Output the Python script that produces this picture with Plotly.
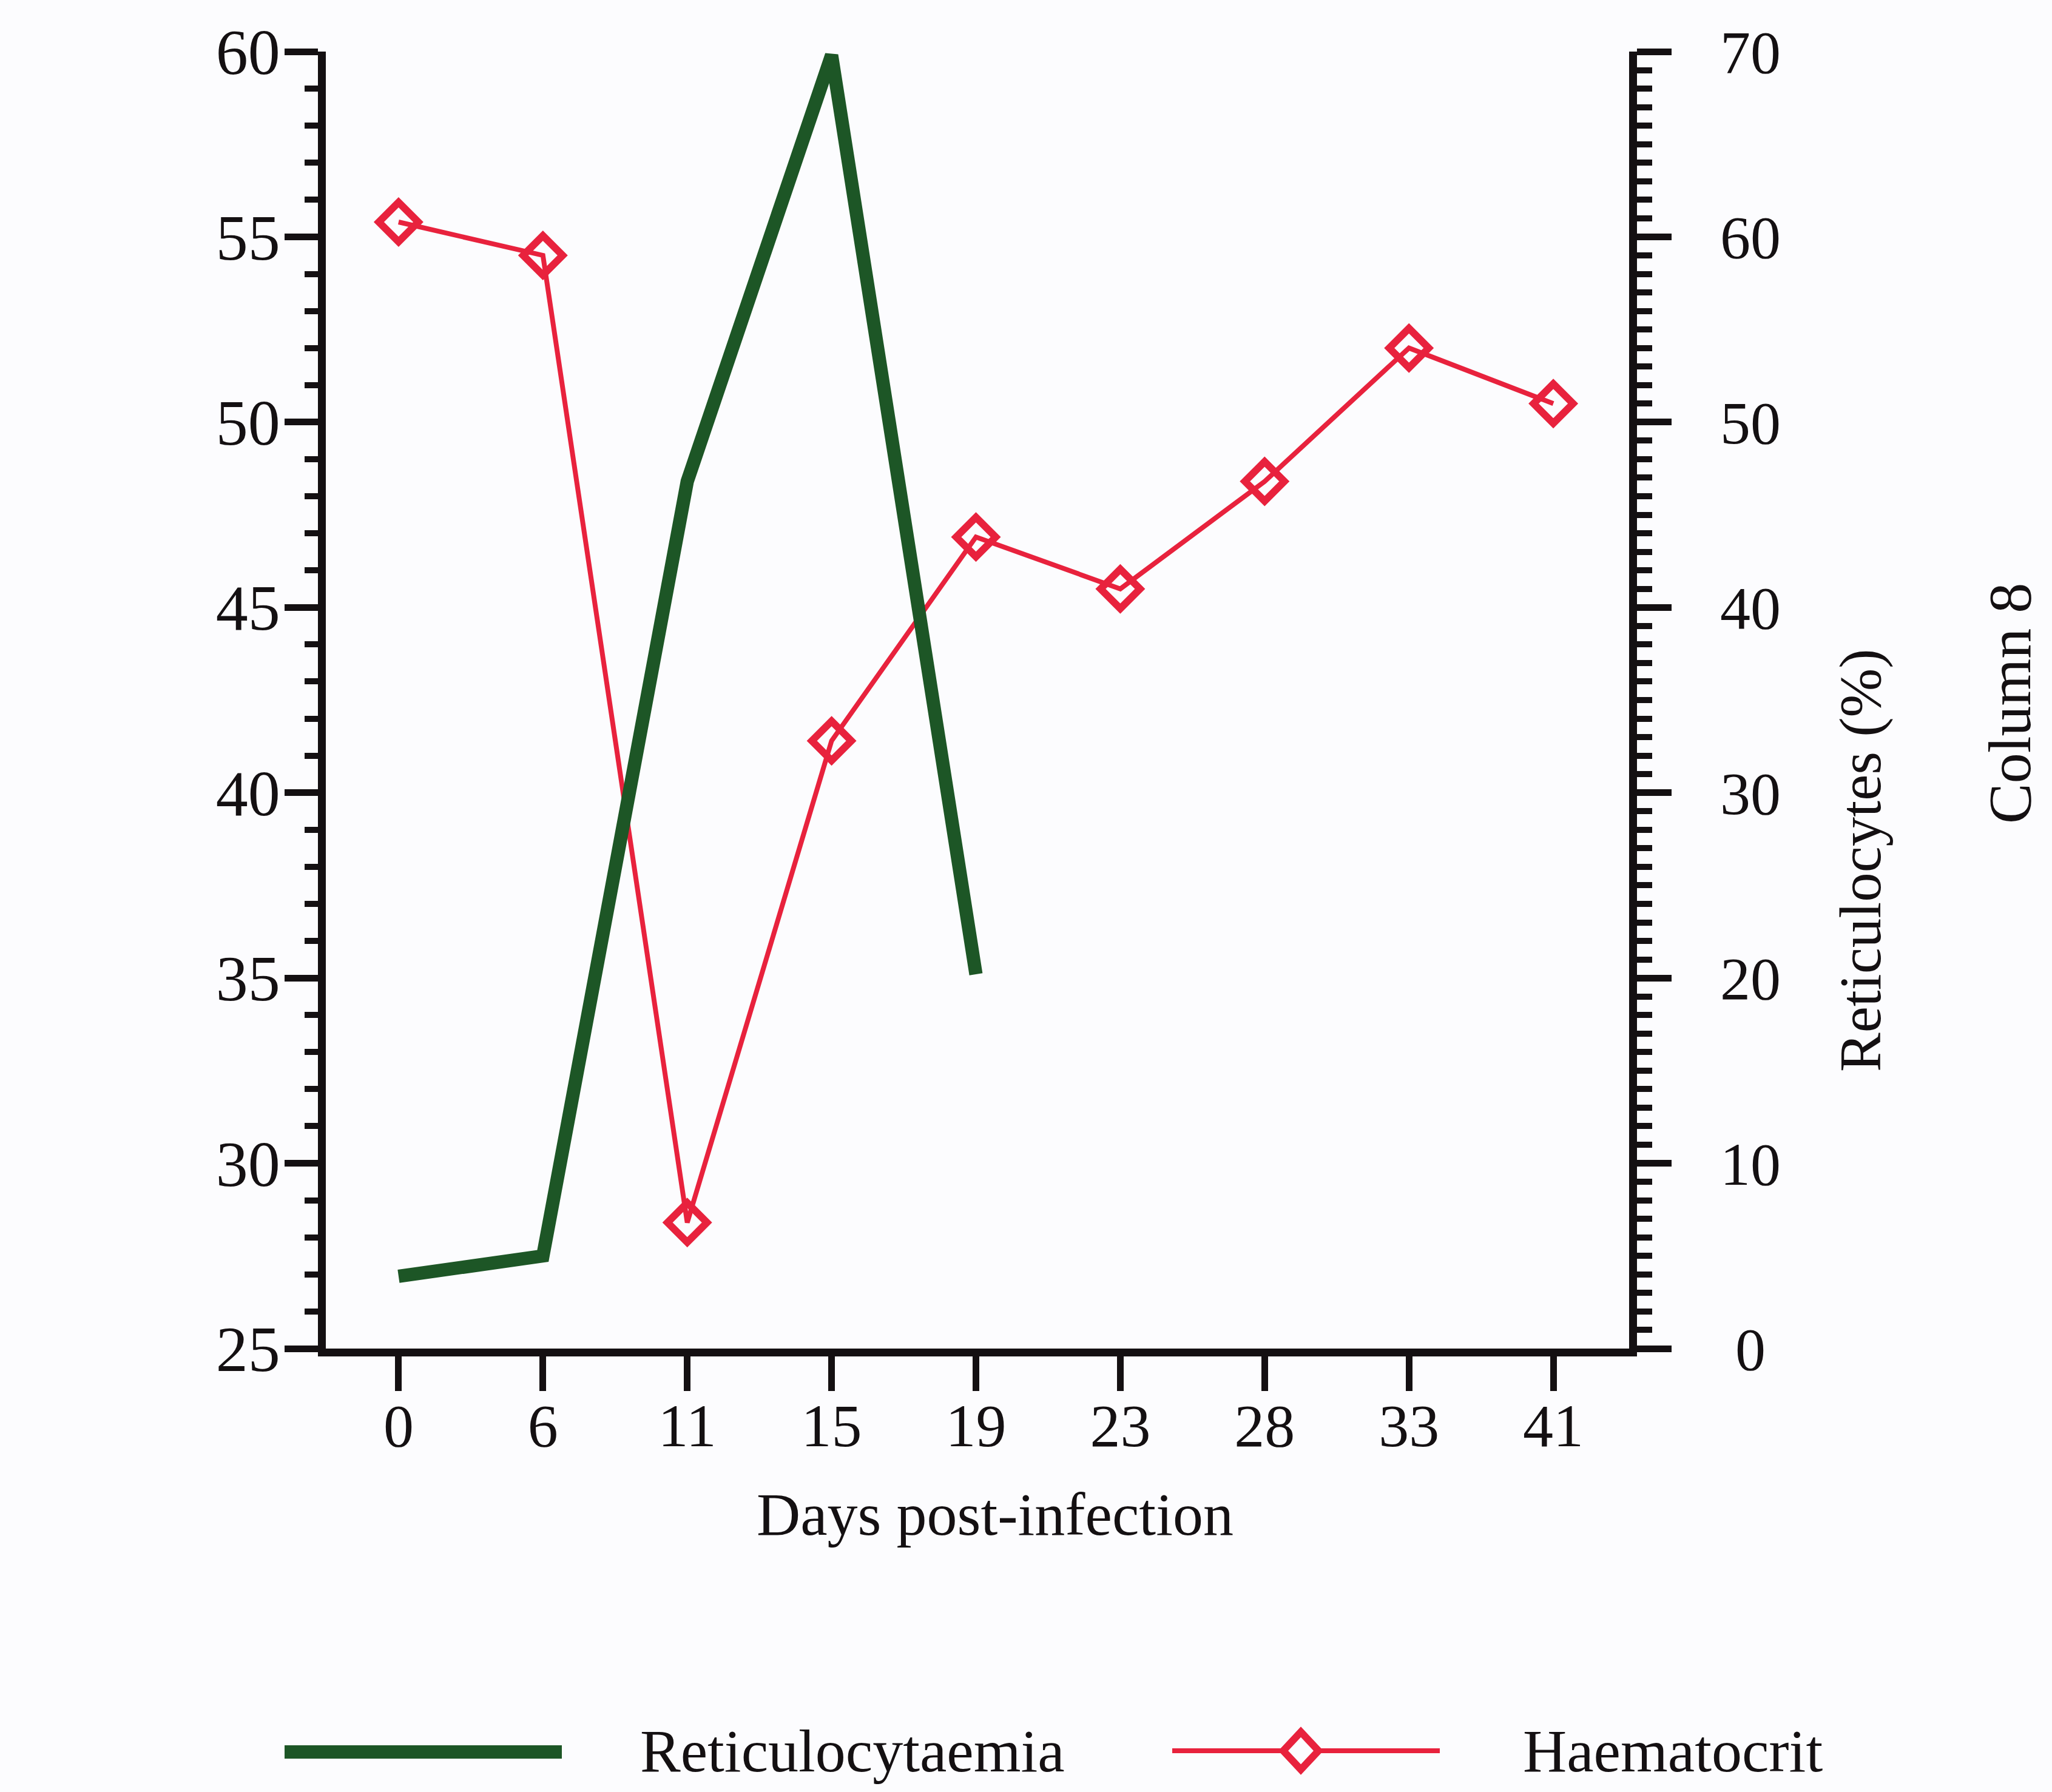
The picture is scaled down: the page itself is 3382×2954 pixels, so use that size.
import plotly.graph_objects as go

# ---------------- data ----------------
days = ["0", "6", "11", "15", "19", "23", "28", "33", "41"]
haematocrit = [55.4, 54.5, 28.4, 41.4, 46.9, 45.5, 48.4, 52.0, 50.5]
reticulo_days = ["0", "6", "11", "15", "19"]
reticulocytaemia = [3.9, 5.0, 46.8, 69.8, 20.2]

left_ticks = [25, 30, 35, 40, 45, 50, 55, 60]
right_ticks = [0, 10, 20, 30, 40, 50, 60, 70]
right_ticktext = ["\u20050", "10", "20", "30", "40", "50", "60", "70"]

GREEN = "#1d5626"
RED = "#e8223d"
INK = "#141012"
FONT = "Liberation Serif"

W, H = 3382, 2954
L, R, T, B = 537, 2685, 85, 2223  # plot area in pixels


def px(x):
    return (x - L) / (R - L)


def py(y):
    return (B - y) / (B - T)


fig = go.Figure()

fig.add_trace(go.Scatter(
    x=reticulo_days, y=reticulocytaemia, yaxis="y2", mode="lines",
    line=dict(color=GREEN, width=22), name="Reticulocytaemia", showlegend=False,
))
fig.add_trace(go.Scatter(
    x=days, y=haematocrit, mode="lines+markers",
    line=dict(color=RED, width=8),
    marker=dict(symbol="diamond-open", size=50, color=RED, line=dict(color=RED, width=12)),
    name="Haematocrit", showlegend=False,
))

axis_common = dict(
    showline=True, linecolor=INK, linewidth=13, showgrid=False, zeroline=False,
    ticks="outside", tickcolor=INK, tickwidth=11,
)
tick_font = dict(family=FONT, size=100, color=INK)

fig.update_layout(
    width=W, height=H,
    margin=dict(l=L, r=W - R, t=T, b=H - B, pad=0),
    paper_bgcolor="#fcfcfe", plot_bgcolor="rgba(0,0,0,0)",
    xaxis=dict(
        type="category", categoryarray=days, range=[-0.504, 8.525],
        ticklen=57, ticklabelstandoff=-29, tickfont=tick_font, **axis_common,
    ),
    yaxis=dict(
        range=[25, 60], tickvals=left_ticks, ticklen=55, ticklabelstandoff=-14,
        tickfont=dict(family=FONT, size=106, color=INK),
        minor=dict(dtick=1, ticks="outside", ticklen=22, tickwidth=10, tickcolor=INK),
        **axis_common,
    ),
    yaxis2=dict(
        range=[0, 70], tickvals=right_ticks, ticktext=right_ticktext, overlaying="y",
        side="right", anchor="x", ticklen=57, ticklabelstandoff=60, tickfont=tick_font,
        minor=dict(dtick=1, ticks="outside", ticklen=25, tickwidth=10, tickcolor=INK),
        **axis_common,
    ),
    showlegend=False,
)

# axis titles
fig.add_annotation(text="Days post-infection", xref="paper", yref="paper",
                   x=px(1640), y=py(2496), xanchor="center", yanchor="middle",
                   showarrow=False, font=dict(family=FONT, size=100, color=INK))
fig.add_annotation(text="Reticulocytes (%)", xref="paper", yref="paper",
                   x=px(3067), y=py(1418), xanchor="center", yanchor="middle",
                   showarrow=False, textangle=-90,
                   font=dict(family=FONT, size=97, color=INK))
fig.add_annotation(text="Column 8", xref="paper", yref="paper",
                   x=px(3312), y=py(1160), xanchor="center", yanchor="middle",
                   showarrow=False, textangle=-90,
                   font=dict(family=FONT, size=100, color=INK))

# custom legend
LY = 2886
fig.add_shape(type="line", xref="paper", yref="paper",
              x0=px(469), x1=px(926), y0=py(LY + 2), y1=py(LY + 2),
              line=dict(color=GREEN, width=22))
fig.add_annotation(text="Reticulocytaemia", xref="paper", yref="paper",
                   x=px(1053), y=py(LY), xanchor="left", yanchor="middle", showarrow=False,
                   font=dict(family=FONT, size=100, color=INK))
fig.add_shape(type="line", xref="paper", yref="paper",
              x0=px(1932), x1=px(2373), y0=py(LY), y1=py(LY),
              line=dict(color=RED, width=8))
cx, cy, hx, hy = 2144, LY, 29, 31
diamond = "M {} {} L {} {} L {} {} L {} {} Z".format(
    px(cx - hx), py(cy), px(cx), py(cy - hy), px(cx + hx), py(cy), px(cx), py(cy + hy))
fig.add_shape(type="path", xref="paper", yref="paper", path=diamond,
              fillcolor="#fcfcfe", line=dict(color=RED, width=12))
fig.add_annotation(text="Haematocrit", xref="paper", yref="paper",
                   x=px(2508), y=py(LY), xanchor="left", yanchor="middle", showarrow=False,
                   font=dict(family=FONT, size=100, color=INK))

fig.write_html("out.html")
